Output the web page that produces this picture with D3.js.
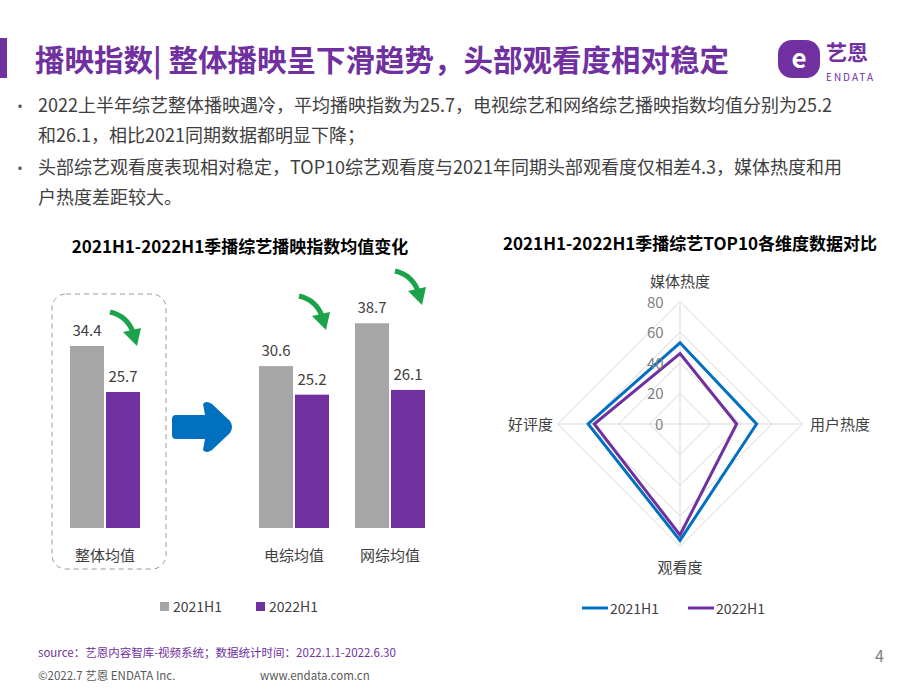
<!DOCTYPE html>
<html><head><meta charset="utf-8">
<script src="https://cdn.jsdelivr.net/npm/d3@7"></script>
<style>body{margin:0;background:#fff;font-family:"Noto Sans CJK SC","Noto Sans",sans-serif}</style>
</head><body><svg id="c" width="920" height="690"></svg>
<script>
const barCategories=["整体均值","电综均值","网综均值"];
const barSeries=["2021H1","2022H1"];
const bar2021=[34.4,30.6,38.7];
const bar2022=[25.7,25.2,26.1];
const radarAxes=["媒体热度","用户热度","观看度","好评度"];
const radar2021=[53,50,76,60];
const radar2022=[46,37,72.5,56];
const radarTicks=[0,20,40,60,80];
const bullets=[["2022上半年综艺整体播映遇冷，平均播映指数为25.7，电视综艺和网络综艺播映指数均值分别为25.2","和26.1，相比2021同期数据都明显下降；"],["头部综艺观看度表现相对稳定，TOP10综艺观看度与2021年同期头部观看度仅相差4.3，媒体热度和用","户热度差距较大。"]];
const svg=d3.select("#c");
const F='"Noto Sans CJK SC",sans-serif';
svg.append("rect").attr("x",0).attr("y",38).attr("width",7).attr("height",40).attr("fill","#7030a0");
svg.append("text").attr("x",35).attr("y",71).attr("font-size",29.5).attr("font-weight",700).attr("fill","#7030a0").attr("font-family",F).text("播映指数| 整体播映呈下滑趋势，头部观看度相对稳定");
svg.append("rect").attr("x",778).attr("y",40).attr("width",42).attr("height",38).attr("rx",14).attr("fill","#7030a0");
svg.append("text").attr("x",799).attr("y",68).attr("text-anchor","middle").attr("font-size",26).attr("font-weight",700).attr("fill","#fff").text("e");
svg.append("text").attr("x",826).attr("y",60).attr("font-size",21).attr("font-weight",700).attr("fill","#7030a0").attr("font-family",F).text("艺恩");
svg.append("text").attr("x",826).attr("y",81).attr("font-size",10).attr("fill","#7030a0").attr("letter-spacing",2).text("ENDATA");
bullets.forEach((b,i)=>{const y0=112+i*62;
 svg.append("text").attr("x",12).attr("y",y0).attr("font-size",16).attr("fill","#595959").text("•");
 b.forEach((t,j)=>svg.append("text").attr("x",38).attr("y",y0+j*30).attr("font-size",18).attr("fill","#404040").attr("font-family",F).text(t));});
svg.append("text").attr("x",240).attr("y",253).attr("text-anchor","middle").attr("font-size",17).attr("font-weight",700).attr("fill","#000").attr("font-family",F).text("2021H1-2022H1季播综艺播映指数均值变化");
const base=528;
const y=d3.scaleLinear().domain([0,34.4]).range([base,346]);
const xc=d3.scaleOrdinal().domain(barCategories).range([105,294,390]);
const colors=["#a6a6a6","#7030a0"];
[bar2021,bar2022].forEach((s,k)=>{
 s.forEach((v,i)=>{const cx=xc(barCategories[i]);const x=k?cx+1:cx-35;
  svg.append("rect").attr("x",x).attr("y",y(v)).attr("width",34).attr("height",base-y(v)).attr("fill",colors[k]);
  svg.append("text").attr("x",x+17).attr("y",y(v)-10).attr("text-anchor","middle").attr("font-size",15).attr("fill","#404040").text(v);});});
barCategories.forEach(c=>svg.append("text").attr("x",xc(c)).attr("y",561).attr("text-anchor","middle").attr("font-size",15).attr("fill","#404040").attr("font-family",F).text(c));
svg.append("rect").attr("x",52).attr("y",294).attr("width",114).attr("height",275).attr("rx",14).attr("fill","none").attr("stroke","#999").attr("stroke-dasharray","5,4");
[[105,346],[294,330],[390,305]].forEach(([cx,t])=>{
 svg.append("path").attr("d",`M${cx+5},${t-34} Q${cx+22},${t-30} ${cx+28},${t-14}`).attr("fill","none").attr("stroke","#1aa34a").attr("stroke-width",5);
 svg.append("path").attr("d",`M${cx+18},${t-14} L${cx+36},${t-18} L${cx+32},${t}Z`).attr("fill","#1aa34a");});
svg.append("path").attr("d","M176,415 L205,415 L203,404 Q206,400 212,404 L230,421 Q234,427 230,433 L212,450 Q206,454 203,450 L205,439 L176,439 Q172,439 172,435 L172,419 Q172,415 176,415Z").attr("fill","#0070c0");
barSeries.forEach((s,k)=>{const x=160+k*96;
 svg.append("rect").attr("x",x).attr("y",602).attr("width",9).attr("height",9).attr("fill",colors[k]);
 svg.append("text").attr("x",x+13).attr("y",612).attr("font-size",14).attr("fill","#404040").text(s);});
svg.append("text").attr("x",690).attr("y",250).attr("text-anchor","middle").attr("font-size",17).attr("font-weight",700).attr("fill","#000").attr("font-family",F).text("2021H1-2022H1季播综艺TOP10各维度数据对比");
const cx=680,cy=424;
const r=d3.scaleLinear().domain([0,80]).range([0,122.5]);
const ang=i=>-Math.PI/2+i*Math.PI/2;
const pt=(v,i)=>[cx+r(v)*Math.cos(ang(i)),cy+r(v)*Math.sin(ang(i))];
const line=d3.line().curve(d3.curveLinearClosed);
radarTicks.slice(1).forEach(t=>svg.append("path").attr("d",line(radarAxes.map((a,i)=>pt(t,i)))).attr("fill","none").attr("stroke","#d9d9d9"));
radarAxes.forEach((a,i)=>svg.append("line").attr("x1",cx).attr("y1",cy).attr("x2",pt(80,i)[0]).attr("y2",pt(80,i)[1]).attr("stroke","#d9d9d9"));
[[radar2021,"#0070c0"],[radar2022,"#7030a0"]].forEach(([d,c])=>svg.append("path").attr("d",line(d.map(pt))).attr("fill","none").attr("stroke",c).attr("stroke-width",3));
radarTicks.forEach(t=>svg.append("text").attr("y",cy-r(t)+6).attr("font-size",15).attr("fill","#808080").text(t).attr("x",t?cx-33:cx-25));
const lp=[[680,287,"middle"],[810,430,"start"],[680,573,"middle"],[553,430,"end"]];
radarAxes.forEach((a,i)=>svg.append("text").attr("x",lp[i][0]).attr("y",lp[i][1]).attr("text-anchor",lp[i][2]).attr("font-size",15).attr("fill","#404040").attr("font-family",F).text(a));
[["2021H1","#0070c0"],["2022H1","#7030a0"]].forEach(([s,c],k)=>{const x=582+k*106;
 svg.append("line").attr("x1",x).attr("x2",x+26).attr("y1",608).attr("y2",608).attr("stroke",c).attr("stroke-width",3);
 svg.append("text").attr("x",x+28).attr("y",614).attr("font-size",14).attr("fill","#404040").text(s);});
svg.append("text").attr("x",38).attr("y",657).attr("font-size",11.5).attr("fill","#7030a0").attr("font-family",F).text("source：艺恩内容智库-视频系统；数据统计时间：2022.1.1-2022.6.30");
svg.append("text").attr("x",38).attr("y",680).attr("font-size",11.5).attr("fill","#595959").attr("font-family",F).text("©2022.7 艺恩 ENDATA Inc.");
svg.append("text").attr("x",260).attr("y",680).attr("font-size",11.5).attr("fill","#595959").text("www.endata.com.cn");
svg.append("text").attr("x",875).attr("y",662).attr("font-size",16).attr("fill","#808080").text("4");
</script></body></html>
